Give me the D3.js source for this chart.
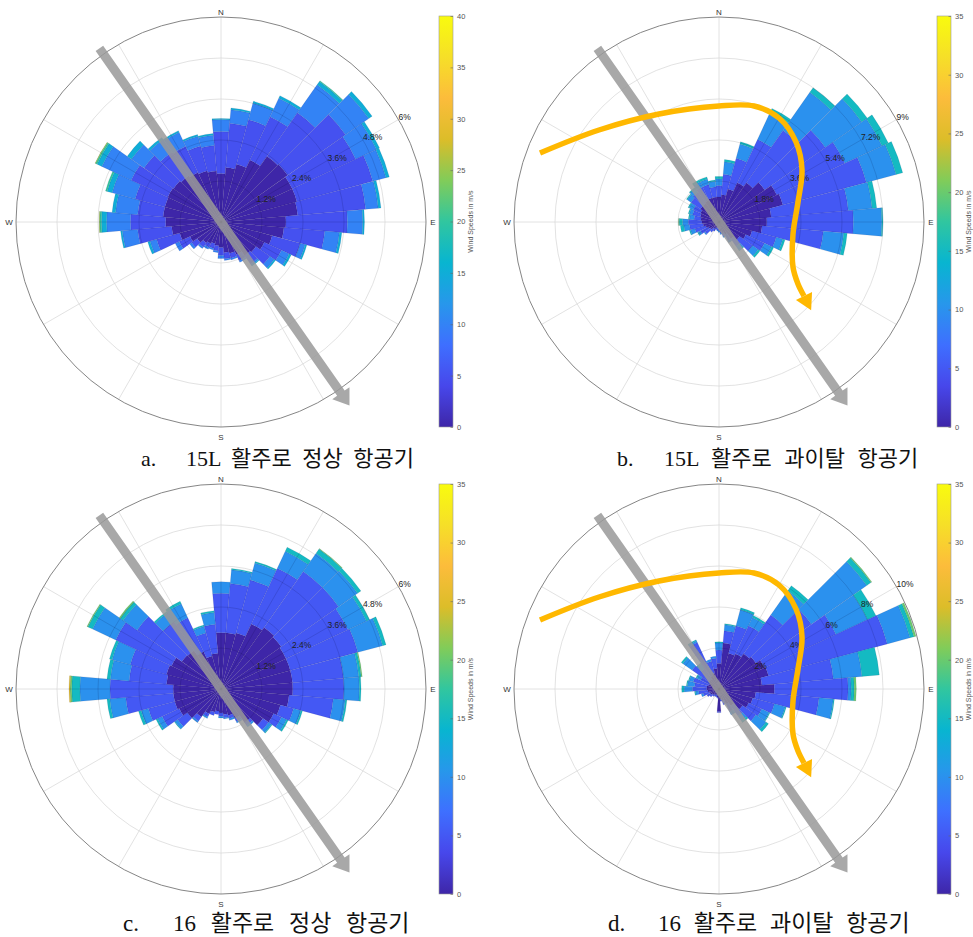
<!DOCTYPE html>
<html>
<head>
<meta charset="utf-8">
<script src="https://cdn.jsdelivr.net/npm/d3@7"></script>
<style>
  body { margin: 0; background: #fff; }
  svg { display: block; }
</style>
</head>
<body>
<svg id="fig" width="973" height="937"></svg>
<script>
// Direction bins (degrees clockwise from north, 10-degree sectors)
const directions = d3.range(0, 360, 10);
// Lower edge of each wind-speed class in m/s
const speedClassLower = [0, 5, 10, 15, 20, 25];

// a. 15L runway, normal aircraft: frequency (%) per direction for each speed class
const a_0_5   = [1.42,1.60,1.75,2.00,2.35,2.38,2.30,2.30,2.25,1.90,1.85,1.55,1.40,1.25,1.20,1.05,0.95,0.90,0.75,0.70,0.65,0.70,0.75,0.85,1.00,1.25,1.45,1.62,1.70,1.70,1.72,1.70,1.65,1.60,1.55,1.50];
const a_5_10  = [1.23,1.30,1.35,1.40,1.55,2.07,2.05,2.30,2.00,1.80,1.20,0.85,0.55,0.50,0.30,0.20,0.15,0.18,0.23,0.15,0.15,0.12,0.15,0.20,0.35,0.70,1.00,1.03,0.75,0.90,1.18,1.05,0.85,0.85,0.75,0.75];
const a_10_15 = [0.35,0.40,0.50,0.60,1.00,0.83,0.67,0.40,0.37,0.45,0.43,0.15,0.25,0.15,0.05,0.05,0.05,0.05,0.09,0.05,0.05,0.06,0.05,0.07,0.13,0.20,0.45,0.70,0.65,0.70,0.95,0.45,0.45,0.45,0.30,0.30];
const a_15_20 = [0.03,0.05,0.06,0.08,0.12,0.12,0.10,0.10,0.08,0.05,0.07,0.05,0.07,0.05,0.03,0,0,0,0,0,0,0,0,0,0,0.07,0.05,0.15,0.10,0.15,0.15,0.15,0.07,0.05,0.05,0.05];
const a_20_25 = [0,0,0,0,0.03,0,0,0,0,0,0,0,0,0,0,0,0,0,0,0,0,0,0,0,0,0,0,0.05,0,0.05,0.05,0,0,0,0,0];
const a_25_30 = [0,0,0,0,0,0,0,0,0,0,0,0,0,0,0,0,0,0,0,0,0,0,0,0,0,0,0,0.02,0,0,0.02,0,0,0,0,0];

// b. 15L runway, excursion aircraft
const b_0_5   = [1.10,1.20,1.50,1.90,2.10,2.45,2.80,2.90,2.30,2.10,1.90,1.50,1.30,1.10,0.90,0.60,0.50,0.40,0.30,0.25,0.25,0.30,0.35,0.45,0.50,0.60,0.70,0.75,0.80,0.85,0.90,1.00,1.00,1.05,1.10,1.10];
const b_5_10  = [0.50,0.90,1.40,2.10,2.80,3.25,3.30,3.80,3.40,3.80,2.70,1.10,0.90,0.70,0.40,0.30,0.15,0.10,0.10,0.10,0.10,0.15,0.20,0.30,0.40,0.50,0.60,0.60,0.30,0.35,0.35,0.50,0.60,0.65,0.60,0.45];
const b_10_15 = [0.30,0.55,0.65,1.30,2.05,1.95,1.80,1.35,1.05,1.25,0.90,0.30,0.35,0.30,0.20,0.10,0.05,0.05,0.05,0.05,0,0,0,0.05,0.10,0.20,0.25,0.25,0.20,0.15,0.20,0.20,0.20,0.25,0.25,0.25];
const b_15_20 = [0.10,0.10,0.10,0.20,0.25,0.30,0.30,0.30,0.20,0.05,0.15,0.10,0.10,0.10,0.05,0,0,0,0,0,0,0,0,0,0.05,0.05,0.15,0.15,0.05,0.05,0.05,0.05,0.05,0.10,0.10,0.05];
const b_20_25 = [0,0,0,0,0,0,0,0,0,0,0,0,0,0,0,0,0,0,0,0,0,0,0,0,0,0,0,0.03,0,0,0,0,0,0,0,0];
const b_25_30 = [0,0,0,0,0,0,0,0,0,0,0,0,0,0,0,0,0,0,0,0,0,0,0,0,0,0,0,0,0,0,0,0,0,0,0,0];

// c. runway 16, normal aircraft
const c_0_5   = [1.65,1.65,1.70,2.10,2.20,2.15,2.10,2.10,2.10,2.10,2.00,1.80,1.70,1.50,1.20,0.95,0.80,0.75,0.70,0.65,0.70,0.80,1.00,1.20,1.35,1.40,1.40,1.40,1.60,1.65,1.60,1.40,1.38,1.20,1.00,1.05];
const c_5_10  = [1.15,1.45,1.60,1.80,2.00,2.05,2.00,2.05,1.50,1.50,1.30,0.40,0.25,0.20,0.10,0.10,0.10,0.10,0.10,0.10,0.10,0.10,0.15,0.35,0.55,0.80,1.40,1.85,1.10,1.10,1.80,1.60,1.02,1.10,0.70,0.85];
const c_10_15 = [0.34,0.40,0.52,0.55,0.65,0.68,0.60,0.75,0.45,0.45,0.35,0.22,0.17,0.10,0.06,0.05,0.05,0.03,0.05,0,0,0.05,0.05,0.10,0.15,0.22,0.47,0.88,0.55,0.55,0.75,0.50,0.32,0.45,0.20,0.35];
const c_15_20 = [0,0.04,0.04,0.13,0.15,0.12,0.10,0.10,0.07,0.05,0.05,0.05,0.05,0.03,0,0,0,0,0,0,0,0,0,0.02,0.05,0.08,0.08,0.24,0.10,0.08,0.15,0.10,0.05,0.08,0.04,0.05];
const c_20_25 = [0,0,0,0,0.02,0,0,0,0.03,0,0,0,0,0,0,0,0,0,0,0,0,0,0,0,0,0,0,0.05,0,0,0.03,0.04,0,0,0,0];
const c_25_30 = [0,0,0,0,0,0,0,0,0,0,0,0,0,0,0,0,0,0,0,0,0,0,0,0,0,0,0,0.03,0,0,0,0,0,0,0,0];

// d. runway 16, excursion aircraft
const d_0_5   = [1.25,2.25,1.80,1.90,2.10,2.20,2.45,2.50,2.10,2.70,1.80,1.70,1.60,1.40,1.00,0.80,0.60,0.50,1.10,0.40,0.30,0.30,0.35,0.40,0.45,0.50,0.55,0.60,0.60,0.55,0.50,0.60,0.60,0.70,0.80,1.00];
const d_5_10  = [0.65,0.60,1.40,1.50,2.30,3.30,3.85,6.00,3.50,3.60,3.10,1.10,0.70,0.80,0.60,0.40,0.20,0.10,0.05,0.05,0.10,0.10,0.10,0.15,0.20,0.30,0.45,0.70,0.60,0.75,0.50,1.00,0.60,1.80,0.60,0.50];
const d_10_15 = [0.35,0.30,0.80,0.45,1.45,3.30,1.70,1.15,1.40,0.15,0.70,0.55,0.40,0.60,0.30,0.20,0,0,0,0,0,0,0,0,0,0.10,0.15,0.40,0.35,0.20,0.20,0.55,0.30,0.10,0.10,0.10];
const d_15_20 = [0.05,0.05,0.10,0.10,0.30,0.25,0.45,0.20,0.85,0.15,0.05,0.05,0.05,0.15,0.10,0,0,0,0,0,0,0,0,0,0,0,0.05,0.12,0.05,0.05,0.05,0.10,0.05,0.05,0,0];
const d_20_25 = [0,0,0,0,0,0.05,0,0.10,0,0.10,0,0,0,0,0,0,0,0,0,0,0,0,0,0,0,0,0,0,0,0,0,0,0,0,0,0];
const d_25_30 = [0,0,0,0,0,0,0,0,0,0,0,0,0,0,0,0,0,0,0,0,0,0,0,0,0,0,0,0,0,0,0,0,0,0,0,0];

// Radial tick labels and colour-bar tick labels
const ticksA = ["1.2%","2.4%","3.6%","4.8%","6%"];
const ticksB = ["1.8%","3.6%","5.4%","7.2%","9%"];
const ticksC = ["1.2%","2.4%","3.6%","4.8%","6%"];
const ticksD = ["2%","4%","6%","8%","10%"];
const speedTicks40 = d3.range(0, 41, 5);
const speedTicks35 = d3.range(0, 36, 5);
const compassLabels = [{t:"N", deg:0},{t:"E", deg:90},{t:"S", deg:180},{t:"W", deg:270}];

// Runway centre line bearing and the excursion path (offsets from rose centre)
const runwayBearing = 145;
const excursionPath = [[-179,-69],[-120,-92],[-60,-108],[0,-116],[35,-116],[60,-104],[77,-80],[83,-52],[79,-20],[74,12],[74,45],[79,62],[85,74]];

// Parula colormap anchors
const parula = [[0.2422,0.1504,0.6603],[0.2803,0.2782,0.9221],[0.2440,0.4358,0.9988],[0.1540,0.5902,0.9218],[0.0297,0.7082,0.8163],[0.1938,0.7758,0.6251],[0.5044,0.7993,0.3480],[0.8634,0.7406,0.1596],[0.9892,0.7392,0.2302],[0.9632,0.8726,0.1568],[0.9763,0.9831,0.0538]];
const parulaScale = d3.scaleLinear()
  .domain(d3.range(parula.length).map(i => i / (parula.length - 1)))
  .range(parula.map(c => d3.rgb(c[0]*255, c[1]*255, c[2]*255)))
  .interpolate(d3.interpolateRgb)
  .clamp(true);

const R = 205;
const panels = [
  { key:"a", cx:221, cy:222, rMax:6,  ticks:ticksA, cMax:40, cTicks:speedTicks40,
    series:[a_0_5,a_5_10,a_10_15,a_15_20,a_20_25,a_25_30], excursion:false,
    cb:{x:439, y0:16, y1:427}, cap:{x:141, x2:186, y:466, size:22, ws:5, tag:"a.", text:"15L 활주로 정상 항공기"} },
  { key:"b", cx:719, cy:222, rMax:9,  ticks:ticksB, cMax:35, cTicks:speedTicks35,
    series:[b_0_5,b_5_10,b_10_15,b_15_20,b_20_25,b_25_30], excursion:true,
    cb:{x:937, y0:16, y1:427}, cap:{x:617, x2:664, y:466, size:22, ws:7, tag:"b.", text:"15L 활주로 과이탈 항공기"} },
  { key:"c", cx:221, cy:689, rMax:6,  ticks:ticksC, cMax:35, cTicks:speedTicks35,
    series:[c_0_5,c_5_10,c_10_15,c_15_20,c_20_25,c_25_30], excursion:false,
    cb:{x:439, y0:484, y1:894}, cap:{x:123, x2:173, y:931, size:23, ws:9, tag:"c.", text:"16 활주로 정상 항공기"} },
  { key:"d", cx:719, cy:689, rMax:10, ticks:ticksD, cMax:35, cTicks:speedTicks35,
    series:[d_0_5,d_5_10,d_10_15,d_15_20,d_20_25,d_25_30], excursion:true,
    cb:{x:937, y0:484, y1:894}, cap:{x:608, x2:658, y:931, size:23, ws:7, tag:"d.", text:"16 활주로 과이탈 항공기"} }
];

const svg = d3.select("#fig");
const defs = svg.append("defs");
const sansFont = "'Liberation Sans', Arial, Helvetica, sans-serif";
const rad = d => d * Math.PI / 180;

panels.forEach(p => {
  const g = svg.append("g").attr("transform", `translate(${p.cx},${p.cy})`);
  const r = d3.scaleLinear().domain([0, p.rMax]).range([0, R]);
  const ringVals = d3.range(1, 6).map(k => p.rMax * k / 5);
  const spokes = d3.range(0, 360, 30);

  // grid beneath the bars
  const grid = g.append("g");
  grid.selectAll("line").data(spokes).join("line")
    .attr("x1", 0).attr("y1", 0)
    .attr("x2", d => R * Math.sin(rad(d))).attr("y2", d => -R * Math.cos(rad(d)))
    .attr("stroke", "#dadada").attr("stroke-width", 0.8);
  grid.selectAll("circle").data(ringVals.slice(0, 4)).join("circle")
    .attr("r", d => r(d)).attr("fill", "none")
    .attr("stroke", "#dadada").attr("stroke-width", 0.8);

  // stacked sectors
  const sectors = [];
  directions.forEach((deg, i) => {
    let cum = 0;
    p.series.forEach((arr, k) => {
      const v = arr[i];
      if (!v) return;
      sectors.push({ deg, inner: cum, outer: cum + v, k });
      cum += v;
    });
  });
  const arc = d3.arc()
    .innerRadius(d => r(d.inner)).outerRadius(d => r(d.outer))
    .startAngle(d => rad(d.deg - 5)).endAngle(d => rad(d.deg + 5));
  const colorFor = k => parulaScale(speedClassLower[k] / p.cMax);

  g.append("g").selectAll("path").data(sectors).join("path")
    .attr("d", arc)
    .attr("fill", d => colorFor(d.k))
    .attr("stroke", "rgba(20,15,60,0.18)").attr("stroke-width", 0.5);

  // grid seen through the bars
  const clipId = "bars-" + p.key;
  defs.append("clipPath").attr("id", clipId)
    .selectAll("path").data(sectors).join("path").attr("d", arc);
  const over = g.append("g").attr("clip-path", `url(#${clipId})`);
  over.selectAll("line").data(spokes).join("line")
    .attr("x1", 0).attr("y1", 0)
    .attr("x2", d => R * Math.sin(rad(d))).attr("y2", d => -R * Math.cos(rad(d)))
    .attr("stroke", "rgba(10,10,50,0.2)").attr("stroke-width", 0.7);
  over.selectAll("circle").data(ringVals.slice(0, 4)).join("circle")
    .attr("r", d => r(d)).attr("fill", "none")
    .attr("stroke", "rgba(10,10,50,0.2)").attr("stroke-width", 0.7);

  // outer ring
  g.append("circle").attr("r", r(p.rMax)).attr("fill", "none")
    .attr("stroke", "#777").attr("stroke-width", 0.9);

  // radial tick labels along the 60-degree bearing
  g.append("g").selectAll("text").data(ringVals).join("text")
    .attr("x", d => r(d) * Math.sin(rad(60)))
    .attr("y", d => -r(d) * Math.cos(rad(60)))
    .attr("font-family", sansFont).attr("font-size", 8.5).attr("fill", "#222")
    .text((d, i) => p.ticks[i]);

  // compass letters
  g.append("g").selectAll("text").data(compassLabels).join("text")
    .attr("x", d => d.deg === 90 ? R + 7 : d.deg === 270 ? -R - 7 : 0)
    .attr("y", d => d.deg === 0 ? -R - 2 : d.deg === 180 ? R + 13 : 3)
    .attr("text-anchor", "middle")
    .attr("font-family", sansFont).attr("font-size", 8).attr("fill", "#333")
    .text(d => d.t);

  // runway centre line arrow
  const ux = Math.sin(rad(runwayBearing)), uy = -Math.cos(rad(runwayBearing));
  const nx = -uy, ny = ux;
  const s0 = -212, hb = 209, tip = 224, hw = 4.6, hh = 10.5;
  const P = (a, b) => [a * ux + b * nx, a * uy + b * ny];
  const arrowPts = [P(s0, -hw), P(hb, -hw), P(hb, -hh), P(tip, 0), P(hb, hh), P(hb, hw), P(s0, hw)];
  g.append("path")
    .attr("d", "M" + arrowPts.map(q => q.join(",")).join("L") + "Z")
    .attr("fill", "#999").attr("fill-opacity", 0.85);

  // excursion trajectory
  if (p.excursion) {
    const line = d3.line().curve(d3.curveCatmullRom.alpha(0.5));
    g.append("path").attr("d", line(excursionPath))
      .attr("fill", "none").attr("stroke", "#ffb800").attr("stroke-width", 5.5);
    const e1 = excursionPath[excursionPath.length - 2], e2 = excursionPath[excursionPath.length - 1];
    const L = Math.hypot(e2[0] - e1[0], e2[1] - e1[1]);
    const dx = (e2[0] - e1[0]) / L, dy = (e2[1] - e1[1]) / L;
    const headLen = 16, headHalf = 9;
    const head = [[e2[0] - dy * headHalf, e2[1] + dx * headHalf],
                  [e2[0] + dx * headLen, e2[1] + dy * headLen],
                  [e2[0] + dy * headHalf, e2[1] - dx * headHalf]];
    g.append("path").attr("d", "M" + head.map(q => q.join(",")).join("L") + "Z")
      .attr("fill", "#ffb800");
  }

  // colour bar
  const gradId = "parula-" + p.key;
  const grad = defs.append("linearGradient").attr("id", gradId)
    .attr("x1", 0).attr("y1", 1).attr("x2", 0).attr("y2", 0);
  grad.selectAll("stop").data(d3.range(0, 1.0001, 0.05)).join("stop")
    .attr("offset", d => d).attr("stop-color", d => parulaScale(d));
  const cbW = 14;
  svg.append("rect").attr("x", p.cb.x).attr("y", p.cb.y0)
    .attr("width", cbW).attr("height", p.cb.y1 - p.cb.y0)
    .attr("fill", `url(#${gradId})`).attr("stroke", "#999").attr("stroke-width", 0.6);
  const cs = d3.scaleLinear().domain([0, p.cMax]).range([p.cb.y1, p.cb.y0]);
  const ax = svg.append("g").attr("transform", `translate(${p.cb.x + cbW},0)`)
    .call(d3.axisRight(cs).tickValues(p.cTicks).tickSize(-2.5).tickPadding(4));
  ax.select(".domain").remove();
  ax.selectAll(".tick line").attr("stroke", "#666").attr("stroke-width", 0.6);
  ax.selectAll(".tick text").attr("font-family", sansFont).attr("font-size", 7.5).attr("fill", "#555");
  const midY = (p.cb.y0 + p.cb.y1) / 2;
  svg.append("text")
    .attr("transform", `translate(${p.cb.x + cbW + 20},${midY}) rotate(-90)`)
    .attr("text-anchor", "middle")
    .attr("font-family", sansFont).attr("font-size", 7).attr("fill", "#555")
    .text("Wind Speeds in m/s");

  // caption
  const cap = svg.append("text").attr("y", p.cap.y)
    .attr("font-family", "'Liberation Serif', 'DejaVu Serif', 'Noto Sans CJK KR', serif")
    .attr("font-size", p.cap.size).attr("fill", "#111");
  cap.append("tspan").attr("x", p.cap.x).text(p.cap.tag);
  cap.append("tspan").attr("x", p.cap.x2).attr("word-spacing", p.cap.ws).text(p.cap.text);
});
</script>
</body>
</html>
